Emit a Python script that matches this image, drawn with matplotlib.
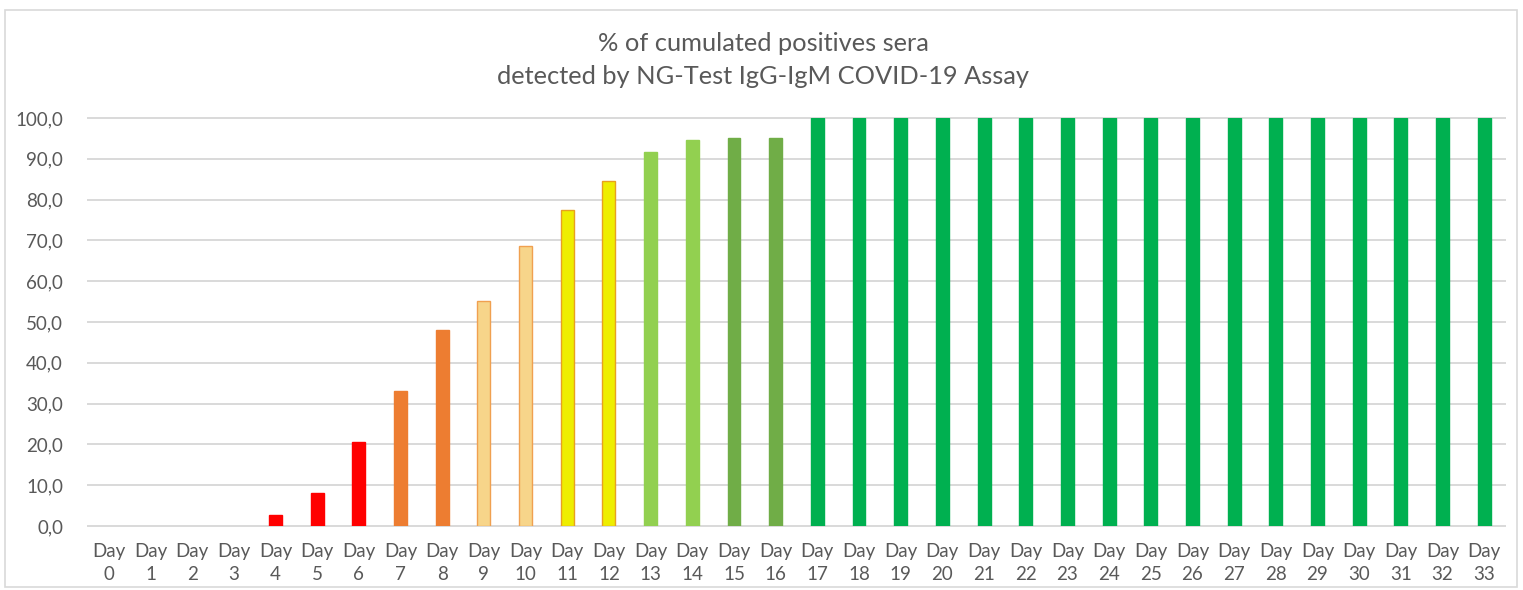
import matplotlib
matplotlib.use("Agg")
import matplotlib.pyplot as plt
from matplotlib.patches import Rectangle

plt.rcParams['font.family'] = ['Lato', 'DejaVu Sans']

days = list(range(34))
values = [0, 0, 0, 0, 2.7, 8.0, 20.7, 33.1, 48.0, 55.2, 68.7, 77.4, 84.6, 91.7, 94.5,
          95.0, 95.2] + [100.0] * 17
fill_colors = (['#FF0000'] * 7 + ['#ED7D31'] * 2 + ['#F7D58A'] * 2 + ['#EEEE00'] * 2 +
               ['#92D050'] * 2 + ['#70AD47'] * 2 + ['#00B050'] * 17)
edge_colors = (['#FF0000'] * 7 + ['#ED7D31'] * 2 + ['#F0A050'] * 2 + ['#E8A020'] * 2 +
               ['#92D050'] * 2 + ['#70AD47'] * 2 + ['#00B050'] * 17)
tick_labels = [f"Day\n{d}" for d in days]
yticks = [0, 10, 20, 30, 40, 50, 60, 70, 80, 90, 100]
title = "% of cumulated positives sera\ndetected by NG-Test IgG-IgM COVID-19 Assay"

W, H = 1523, 590
fig = plt.figure(figsize=(W / 100, H / 100), dpi=100)
fig.patch.set_facecolor('white')

# outer border
fig.add_artist(Rectangle((5 / W, 3 / H), 1512 / W, 577 / H, transform=fig.transFigure,
                         fill=False, edgecolor='#D9D9D9', linewidth=1.2))

ax = fig.add_axes([88 / W, 1 - 526 / H, (1505 - 88) / W, (526 - 118) / H])
lw = [1.0 if v > 0 else 0 for v in values]
ax.bar(days, values, width=0.31, color=fill_colors, edgecolor=edge_colors,
       linewidth=lw, zorder=3)
ax.set_xlim(-0.5, 33.5)
ax.set_ylim(0, 100)
ax.set_yticks(yticks)
ax.set_yticklabels([f"{v:.1f}".replace('.', ',') for v in yticks])
ax.set_xticks(days)
ax.set_xticklabels(tick_labels, linespacing=1.45)
ax.grid(axis='y', color='#D9D9D9', linewidth=1.4, zorder=0)
for gl in ax.get_ygridlines():
    gl.set_clip_on(False)
ax.set_axisbelow(True)
for s in ax.spines.values():
    s.set_visible(False)
ax.tick_params(axis='both', length=0, colors='#595959', labelsize=13.5)
ax.tick_params(axis='y', pad=18)
ax.tick_params(axis='x', pad=12)

fig.text(763 / W, 1 - 60 / H, title, ha='center', va='center', fontsize=18.3,
         color='#595959', linespacing=1.55)

fig.savefig('out.png', dpi=100, facecolor='white')
